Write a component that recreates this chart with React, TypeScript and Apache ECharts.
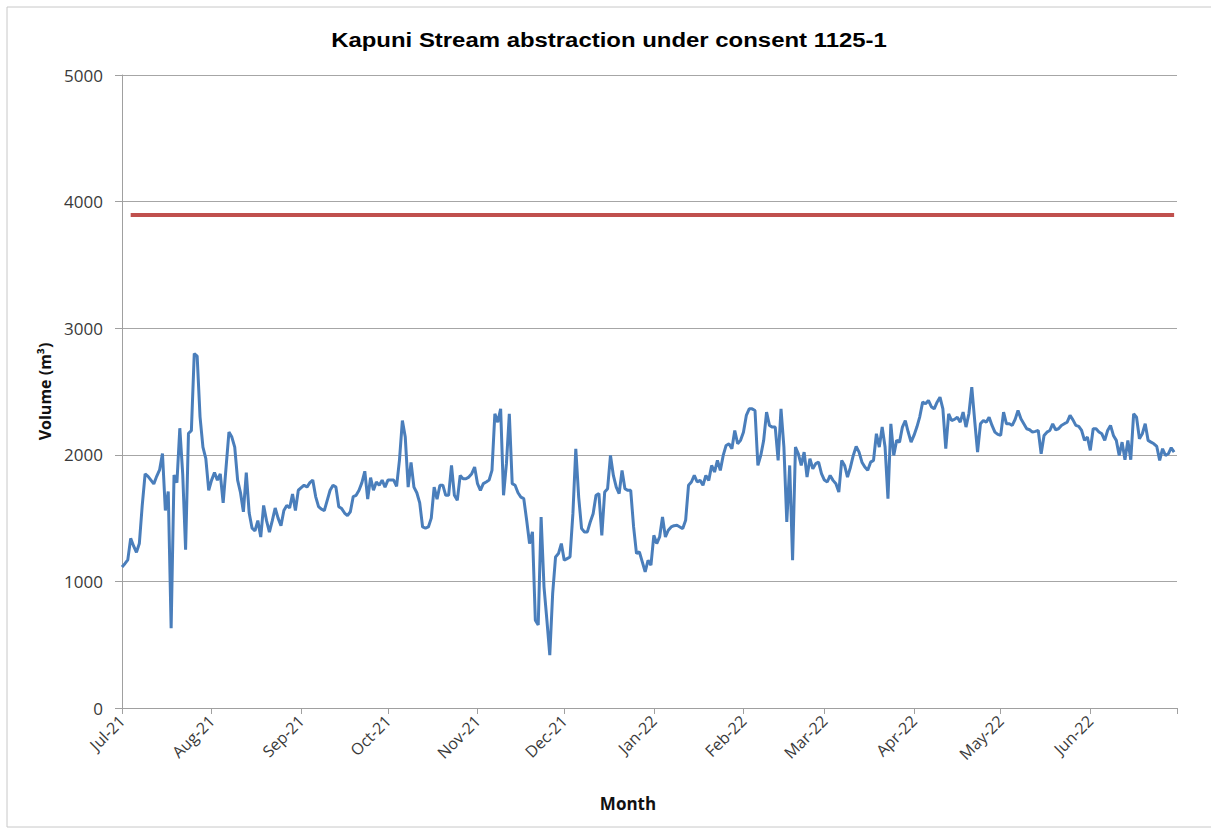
import React, { useEffect, useRef } from "react";
import * as echarts from "echarts";

// Daily abstraction volumes (m3), 1 Jul 2021 - 30 Jun 2022
const JUL_21 = [1114,1140,1170,1340,1280,1230,1300,1600,1850,1830,1800,1770,1830,1880,2010,1560,1710,630,1840,1780,2210,1850,1250,2170,2190,2800,2780,2300,2060,1970,1720];
const AUG_21 = [1800,1860,1800,1850,1620,1900,2180,2140,2060,1800,1700,1550,1860,1540,1420,1400,1480,1350,1600,1480,1390,1480,1580,1500,1440,1560,1600,1580,1690,1560,1720];
const SEP_21 = [1740,1760,1745,1780,1800,1670,1590,1570,1560,1640,1720,1760,1745,1590,1575,1540,1520,1550,1670,1680,1720,1780,1870,1650,1820,1720,1785,1760,1800,1745];
const OCT_21 = [1800,1800,1800,1750,1960,2270,2140,1745,1940,1745,1700,1620,1430,1420,1430,1500,1745,1650,1760,1760,1680,1680,1916,1680,1640,1837,1811,1811,1824,1851,1903];
const NOV_21 = [1772,1719,1772,1785,1800,1877,2324,2258,2363,1680,1930,2324,1772,1759,1700,1666,1654,1483,1299,1391,694,655,1509,957,694,418,905,1193,1220,1299];
const DEC_21 = [1167,1180,1193,1535,2048,1666,1417,1391,1391,1469,1535,1680,1693,1364,1706,1732,1995,1837,1745,1693,1877,1732,1719,1719,1430,1220,1233,1154,1075,1167,1128];
const JAN_22 = [1364,1299,1351,1509,1351,1404,1430,1440,1443,1430,1417,1483,1759,1785,1837,1785,1798,1759,1837,1798,1916,1864,1956,1877,1995,2074,2087,2048,2192,2087,2114];
const FEB_22 = [2179,2311,2363,2363,2350,1916,1995,2114,2337,2232,2219,2219,1956,2363,2061,1469,1916,1167,2061,2008,1916,2021,1824,1969,1890,1930,1942,1851];
const MAR_22 = [1800,1785,1837,1798,1772,1706,1956,1916,1824,1900,1995,2066,2021,1942,1903,1877,1942,1956,2166,2061,2219,2061,1654,2245,1995,2114,2100,2219,2271,2180,2100];
const APR_22 = [2153,2219,2300,2416,2403,2429,2380,2363,2416,2455,2363,2048,2324,2271,2280,2297,2258,2337,2219,2324,2534,2271,2021,2245,2271,2258,2297,2232,2179,2161];
const MAY_22 = [2153,2337,2245,2245,2232,2280,2350,2284,2245,2206,2198,2179,2185,2192,2008,2153,2179,2192,2245,2198,2206,2232,2245,2258,2311,2276,2232,2224,2192,2114,2140];
const JUN_22 = [2035,2206,2206,2180,2166,2114,2192,2232,2153,2114,1995,2100,1961,2114,1961,2324,2297,2127,2166,2245,2114,2100,2087,2066,1956,2048,1995,2008,2056,2021];

const MONTHLY = [JUL_21, AUG_21, SEP_21, OCT_21, NOV_21, DEC_21, JAN_22, FEB_22, MAR_22, APR_22, MAY_22, JUN_22];
const TICK_LABELS = ["Jul-21","Aug-21","Sep-21","Oct-21","Nov-21","Dec-21","Jan-22","Feb-22","Mar-22","Apr-22","May-22","Jun-22"];
const END_CATEGORY = "Jul-22";
const CONSENT_LIMIT = 3900;
const Y_TICKS = [0, 1000, 2000, 3000, 4000, 5000];

const TITLE = "Kapuni Stream abstraction under consent 1125-1";
const X_NAME = "Month";
const Y_NAME = "Volume (m³)";

// build categories (one per day) and values from the monthly arrays
const categories: string[] = [];
const values: number[] = [];
MONTHLY.forEach((arr, m) => {
  arr.forEach((v, i) => {
    categories.push(i === 0 ? TICK_LABELS[m] : `${TICK_LABELS[m]} ${i + 1}`);
    values.push(v);
  });
});
categories.push(END_CATEGORY);

const isMonthStart = (v: string) => v.indexOf(" ") === -1;

export default function App() {
  const ref = useRef<HTMLDivElement>(null);
  useEffect(() => {
    if (!ref.current) return;
    const chart = echarts.init(ref.current, undefined, { renderer: "svg" });
    const axisColor = "#a0a0a0";
    const labelColor = "#3a3a3a";
    chart.setOption({
      animation: false,
      backgroundColor: "#ffffff",
      grid: { left: 122, right: 34, top: 75, bottom: 124 },
      xAxis: {
        type: "category",
        data: categories,
        boundaryGap: false,
        axisLine: { lineStyle: { color: axisColor, width: 1 } },
        axisTick: {
          show: true,
          interval: (_i: number, v: string) => isMonthStart(v),
          length: 6,
          lineStyle: { color: axisColor },
        },
        axisLabel: {
          interval: (_i: number, v: string) => isMonthStart(v) && v !== END_CATEGORY,
          rotate: 45,
          fontSize: 16,
          fontFamily: "Open Sans",
          color: labelColor,
          margin: 10,
        },
        splitLine: { show: false },
      },
      yAxis: {
        type: "value",
        min: Y_TICKS[0],
        max: Y_TICKS[Y_TICKS.length - 1],
        interval: Y_TICKS[1] - Y_TICKS[0],
        name: Y_NAME,
        nameLocation: "middle",
        nameGap: 68,
        nameTextStyle: { fontWeight: "bold", fontSize: 16, fontFamily: "Open Sans", color: "#111111" },
        axisLine: { show: true, lineStyle: { color: axisColor } },
        axisTick: { show: true, length: 7, lineStyle: { color: axisColor } },
        axisLabel: {
          fontSize: 17,
          fontFamily: "Open Sans",
          color: labelColor,
          margin: 19,
          formatter: (v: number) => String(v),
        },
        splitLine: { show: true, lineStyle: { color: "#a6a6a6", width: 1 } },
      },
      series: [
        {
          type: "line",
          name: "Daily abstraction",
          data: values,
          symbol: "none",
          lineStyle: { color: "#4a7ebb", width: 3 },
          itemStyle: { color: "#4a7ebb" },
          markLine: {
            silent: true,
            symbol: "none",
            label: { show: false },
            lineStyle: { color: "#c0504d", width: 4, type: "solid" },
            data: [
              [
                { xAxis: categories[3], yAxis: CONSENT_LIMIT },
                { xAxis: categories[categories.length - 2], yAxis: CONSENT_LIMIT },
              ],
            ],
          },
        },
      ],
      graphic: [
        {
          type: "rect",
          z: -10,
          shape: { x: 7, y: 7, width: 1230, height: 820 },
          style: { fill: "none", stroke: "#c8c8c8", lineWidth: 1 },
        },
        {
          type: "text",
          x: 609,
          y: 40,
          scaleX: 1.14,
          style: {
            text: TITLE,
            font: 'bold 21px "Liberation Sans"',
            fill: "#000000",
            textAlign: "center",
            textVerticalAlign: "middle",
          },
        },
        {
          type: "text",
          x: 628,
          y: 803,
          style: {
            text: X_NAME,
            font: 'bold 17px "Open Sans"',
            fill: "#111111",
            textAlign: "center",
            textVerticalAlign: "middle",
          },
        },
      ],
    });
    return () => chart.dispose();
  }, []);
  return <div ref={ref} style={{ position: "absolute", left: 0, top: 0, width: 1211, height: 832 }} />;
}
